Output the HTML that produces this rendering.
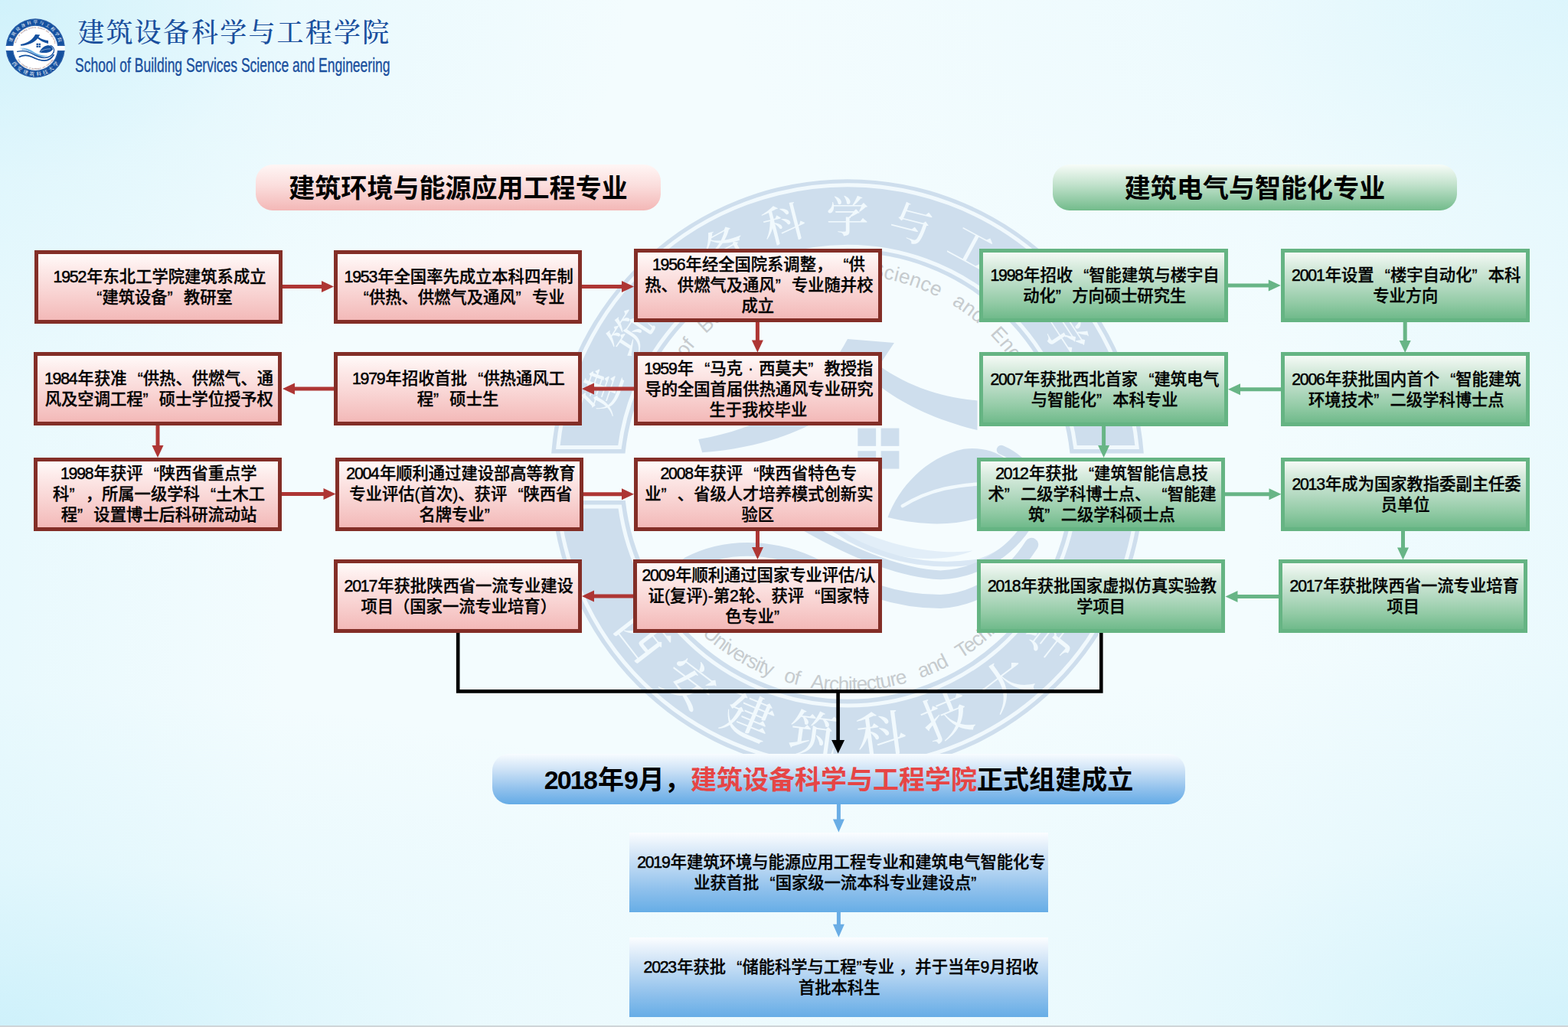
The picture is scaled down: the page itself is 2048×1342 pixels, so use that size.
<!DOCTYPE html>
<html lang="zh-CN">
<head>
<meta charset="utf-8">
<title>建筑设备科学与工程学院</title>
<style>
html,body{margin:0;padding:0;}
body{width:2048px;height:1342px;overflow:hidden;background:#e4f7fc;}
#pg{position:relative;width:2048px;height:1342px;overflow:hidden;
  font-family:"Liberation Sans","Noto Sans CJK SC",sans-serif;
  background:
    radial-gradient(ellipse 820px 520px at 0 0,rgba(190,236,249,.56),rgba(190,236,249,.19) 45%,rgba(190,236,249,0) 100%),
    radial-gradient(ellipse 1250px 440px at 0 100%,rgba(190,236,249,.62),rgba(190,236,249,.17) 50%,rgba(190,236,249,0) 100%),
    radial-gradient(ellipse 1250px 500px at 100% 100%,rgba(190,236,249,.55),rgba(190,236,249,.16) 50%,rgba(190,236,249,0) 100%),
    radial-gradient(ellipse 1100px 520px at 100% 0,rgba(196,238,250,.36),rgba(196,238,250,.1) 50%,rgba(196,238,250,0) 100%),
    linear-gradient(90deg,rgba(190,236,249,.2),rgba(190,236,249,0) 18%,rgba(190,236,249,0) 80%,rgba(190,236,249,.16) 100%),
    #f3fcfe;
}
#pg svg{position:absolute;left:0;top:0;overflow:visible;}
svg.wm{z-index:0;}
svg.ar{z-index:2;}
/* boxes */
.bx{position:absolute;box-sizing:border-box;display:flex;align-items:center;justify-content:center;z-index:3;}
.bx p{margin:0;text-align:center;white-space:nowrap;font-weight:500;font-size:21.3px;line-height:27px;color:#000;position:relative;top:1.2px;-webkit-text-stroke:.32px #000;}
.ln{display:block;margin:0 auto;white-space:nowrap;text-align:justify;text-align-last:justify;text-justify:inter-character;}
.ln.m{display:table;}
.bx b{display:inline-block;font-weight:500;letter-spacing:-1.25px;margin-right:1.25px;-webkit-text-stroke:.5px #000;}
.bx i,.pill i{font-style:normal;display:inline-block;width:1em;}
i.ql{text-align:right;text-align-last:right;}
i.qr{text-align:left;text-align-last:left;}
i.qc{text-align:center;text-align-last:center;}
.r{border:5.3px solid #832e27;background:linear-gradient(180deg,#fffaf9 0%,#fdeae9 22%,#f9d6d5 55%,#f3b9b8 100%);}
.g{border:5.3px solid #65b483;background:linear-gradient(180deg,#f5faf6 0%,#d9ecdf 20%,#b5dac2 50%,#93cba6 76%,#70ba8b 100%);}
.b{background:linear-gradient(180deg,#fbfdff 0%,#cfe3f6 30%,#8ec0ec 72%,#66ade6 100%);}
/* pills */
.pill{position:absolute;box-sizing:border-box;text-align:center;white-space:nowrap;font-weight:bold;color:#000;z-index:3;}
.pr{left:334px;top:215px;width:529px;height:59.5px;border-radius:22px;line-height:62px;font-size:34px;
  background:linear-gradient(180deg,#fff6f5 0%,#fbdedd 45%,#f3b7b6 100%);}
.pg{left:1375px;top:215px;width:528px;height:59.5px;border-radius:22px;line-height:62px;font-size:34px;
  background:linear-gradient(180deg,#f7fcf8 0%,#c4e3ce 42%,#72bb8b 100%);}
.pb{left:642.5px;top:984.5px;width:905.8px;height:66.5px;border-radius:22px;line-height:69px;font-size:34px;
  background:linear-gradient(180deg,#f8fcff 0%,#cde2f6 32%,#8dbfec 72%,#64abe6 100%);}
.pill b{display:inline-block;letter-spacing:-1.8px;margin-right:1.8px;}
.rd{color:#e64545;}
/* logo */
#logo{position:absolute;left:0;top:0;width:620px;height:120px;z-index:3;}
#logo .cn{position:absolute;left:100px;top:20px;font-family:"Liberation Serif","Noto Serif CJK SC",serif;font-weight:500;font-size:33px;line-height:44px;
  letter-spacing:4.3px;color:#1a4f9d;white-space:nowrap;}
#logo .en{position:absolute;left:98px;top:70px;font-size:25px;line-height:30px;color:#1a4f9d;white-space:nowrap;
  transform-origin:0 50%;transform:scaleX(.7);-webkit-text-stroke:.35px #1a4f9d;}
#foot{position:absolute;left:0;top:1339.5px;width:2048px;height:2.5px;background:#cfd5d8;z-index:4;}

</style>
</head>
<body>
<div id="pg">
<svg width="0" height="0" style="position:absolute"><defs><g id="seal">
<circle cx="655.0" cy="669.0" r="783.0" style="fill:var(--disk)"/>
<path d="M-125.7,609.5 A783.0,783.0 0 0 1 1435.7,609.5 L1241.3,609.5 A589.3,589.3 0 0 0 68.7,609.5 Z" style="fill:var(--ring)"/>
<path d="M-125.3,733.6 A783.0,783.0 0 0 0 1435.3,733.6 L1240.7,733.6 A589.3,589.3 0 0 1 69.3,733.6 Z" style="fill:var(--ring)"/>
<path d="M-108.2,593.4 A766.9,766.9 0 0 1 1418.2,593.4 L1255.6,593.4 A605.4,605.4 0 0 0 54.4,593.4 Z" style="fill:none;stroke:var(--ln);stroke-width:10.1"/>
<path d="M-107.6,749.7 A766.9,766.9 0 0 0 1417.6,749.7 L1255.0,749.7 A605.4,605.4 0 0 1 55.0,749.7 Z" style="fill:none;stroke:var(--ln);stroke-width:10.1"/>
<g style="fill:var(--rt);font-family:'Liberation Serif','Noto Serif CJK SC',serif;font-weight:500" text-anchor="middle">
<g font-size="112">
<text transform="translate(6.4,445.7) rotate(-71.0)" y="41.4">建</text>
<text transform="translate(81.0,293.4) rotate(-56.8)" y="41.4">筑</text>
<text transform="translate(190.7,164.0) rotate(-42.6)" y="41.4">设</text>
<text transform="translate(328.7,65.6) rotate(-28.4)" y="41.4">备</text>
<text transform="translate(486.7,4.0) rotate(-14.2)" y="41.4">科</text>
<text transform="translate(655.0,-17.0) rotate(0.0)" y="41.4">学</text>
<text transform="translate(823.3,4.0) rotate(14.2)" y="41.4">与</text>
<text transform="translate(981.3,65.6) rotate(28.4)" y="41.4">工</text>
<text transform="translate(1119.3,164.0) rotate(42.6)" y="41.4">程</text>
<text transform="translate(1229.0,293.4) rotate(56.8)" y="41.4">学</text>
<text transform="translate(1303.6,445.7) rotate(71.0)" y="41.4">院</text>
</g>
<g font-size="131">
<text transform="translate(113.0,1089.5) rotate(52.2)" y="48.6">西</text>
<text transform="translate(239.3,1214.7) rotate(37.3)" y="48.6">安</text>
<text transform="translate(393.6,1303.2) rotate(22.4)" y="48.6">建</text>
<text transform="translate(565.5,1349.1) rotate(7.5)" y="48.6">筑</text>
<text transform="translate(743.4,1349.3) rotate(-7.4)" y="48.6">科</text>
<text transform="translate(915.3,1303.7) rotate(-22.3)" y="48.6">技</text>
<text transform="translate(1069.8,1215.4) rotate(-37.2)" y="48.6">大</text>
<text transform="translate(1196.3,1090.4) rotate(-52.1)" y="48.6">学</text>
</g>
</g>
<path id="arcT" d="M141.7,541.0 A529.0,529.0 0 0 1 1168.3,541.0" fill="none"/>
<path id="arcB" d="M179.5,977.8 A567.0,567.0 0 0 0 1130.5,977.8" fill="none"/>
<g style="fill:var(--it);font-family:'Liberation Sans',sans-serif;font-size:53px;word-spacing:24px">
<text><textPath href="#arcT" textLength="1403" lengthAdjust="spacing">School of Building Services Science and Engineering</textPath></text>
<text><textPath href="#arcB" textLength="1128" lengthAdjust="spacing">Xi'an University of Architecture and Technology</textPath></text>
</g>
<g style="fill:var(--em)">
<path d="M655,308 L778,318 L738,378 C810,430 900,462 997,470 L997,548 C880,520 780,470 716,412 C620,520 480,590 272,607 L262,572 C450,540 580,450 655,308 Z"/>
<rect x="682" y="543" width="48" height="47"/><rect x="743" y="543" width="48" height="47"/>
<rect x="682" y="603" width="48" height="47"/><rect x="743" y="603" width="48" height="47"/>
<path d="M761,778 C790,700 860,620 961,598 C1040,588 1105,630 1120,700 C1080,750 1040,770 995,781 C930,800 850,800 761,778 Z"/>
</g>
<path d="M800,748 C870,705 940,690 1050,688" style="fill:none;stroke:var(--disk2);stroke-width:9;stroke-linecap:round"/>
<path d="M225,672 C400,648 520,700 640,790 C760,858 900,878 985,866 C900,902 760,894 640,824 C520,742 400,684 225,672 Z" style="fill:var(--w1)"/>
<path d="M300,705 C450,710 560,770 660,835 C780,900 900,910 1000,895 C1080,870 1130,810 1150,740" style="fill:none;stroke:var(--w2);stroke-width:14;stroke-linecap:round"/>
<path d="M175,760 C300,730 430,740 540,800 C680,880 800,925 900,930 C1010,925 1100,860 1145,770 C1170,700 1130,630 1060,600" style="fill:none;stroke:var(--em);stroke-width:24;stroke-linecap:round"/>
<path d="M235,900 C330,850 450,850 560,900 C680,960 780,1000 900,1000 C1000,995 1090,930 1140,850" style="fill:none;stroke:var(--em);stroke-width:36;stroke-linecap:round"/>
</g></defs></svg>
<svg class="wm" width="2048" height="1342" viewBox="0 0 2048 1342"><use href="#seal" transform="translate(1107,622) scale(0.49553) translate(-655.0,-669.0)" style="--ring:#cedeed;--disk:rgba(255,255,255,.18);--disk2:#f1f9fd;--rt:#f1f9fd;--it:#c6cbce;--em:#cedeed;--w1:#e2eef8;--w2:#d9e7f4;--ln:#f1f9fd"/></svg>
<div id="logo">
<svg width="120" height="120" viewBox="0 0 120 120"><use href="#seal" transform="translate(46.2,62.9) scale(0.04930) translate(-655.0,-669.0)" style="--ring:#14509f;--disk:#fff;--disk2:#fff;--rt:#fff;--it:#7a4a4a;--em:#14509f;--w1:#6db6e8;--w2:#2a77c4;--ln:rgba(255,255,255,.25)"/></svg>
<svg class="ttl" width="620" height="120" viewBox="0 0 620 120" role="img" aria-label="建筑设备科学与工程学院"><title>建筑设备科学与工程学院</title><text x="101.2" y="54.8" font-size="35" letter-spacing="2.2" font-weight="500" fill="#1a4f9d" style="font-family:'Liberation Serif','Noto Serif CJK SC',serif">建筑设备科学与工程学院</text></svg>
<div class="en">School of Building Services Science and Engineering</div>
</div>
<div class="pill pr"><span class="ln" style="width:442.4px">建筑环境与能源应用工程专业</span></div>
<div class="pill pg"><span class="ln" style="width:340.4px">建筑电气与智能化专业</span></div>
<svg class="ar" width="2048" height="1342" viewBox="0 0 2048 1342"><path d="M369.0,377.0 L420.0,377.0 L420.0,382.0 L436.0,374.5 L420.0,367.0 L420.0,372.0 L369.0,372.0Z" fill="#ae3634"/><path d="M759.0,377.0 L812.0,377.0 L812.0,382.0 L828.0,374.5 L812.0,367.0 L812.0,372.0 L759.0,372.0Z" fill="#ae3634"/><path d="M986.9,420.0 L986.9,444.5 L981.9,444.5 L989.4,460.5 L996.9,444.5 L991.9,444.5 L991.9,420.0Z" fill="#ae3634"/><path d="M828.0,505.5 L776.0,505.5 L776.0,500.5 L760.0,508.0 L776.0,515.5 L776.0,510.5 L828.0,510.5Z" fill="#ae3634"/><path d="M436.0,505.5 L385.0,505.5 L385.0,500.5 L369.0,508.0 L385.0,515.5 L385.0,510.5 L436.0,510.5Z" fill="#ae3634"/><path d="M203.5,556.0 L203.5,582.0 L198.5,582.0 L206.0,598.0 L213.5,582.0 L208.5,582.0 L208.5,556.0Z" fill="#ae3634"/><path d="M368.0,648.0 L422.5,648.0 L422.5,653.0 L438.5,645.5 L422.5,638.0 L422.5,643.0 L368.0,643.0Z" fill="#ae3634"/><path d="M762.0,648.2 L812.0,648.2 L812.0,653.2 L828.0,645.7 L812.0,638.2 L812.0,643.2 L762.0,643.2Z" fill="#ae3634"/><path d="M987.0,693.0 L987.0,715.0 L982.0,715.0 L989.5,731.0 L997.0,715.0 L992.0,715.0 L992.0,693.0Z" fill="#ae3634"/><path d="M828.0,776.5 L776.0,776.5 L776.0,771.5 L760.0,779.0 L776.0,786.5 L776.0,781.5 L828.0,781.5Z" fill="#ae3634"/><path d="M1603.0,375.5 L1656.8,375.5 L1656.8,380.5 L1672.8,373.0 L1656.8,365.5 L1656.8,370.5 L1603.0,370.5Z" fill="#68b586"/><path d="M1832.7,421.0 L1832.7,445.0 L1827.7,445.0 L1835.2,461.0 L1842.7,445.0 L1837.7,445.0 L1837.7,421.0Z" fill="#68b586"/><path d="M1673.5,506.3 L1620.0,506.3 L1620.0,501.3 L1604.0,508.8 L1620.0,516.3 L1620.0,511.3 L1673.5,511.3Z" fill="#68b586"/><path d="M1439.1,556.0 L1439.1,582.0 L1434.1,582.0 L1441.6,598.0 L1449.1,582.0 L1444.1,582.0 L1444.1,556.0Z" fill="#68b586"/><path d="M1600.0,648.3 L1657.5,648.3 L1657.5,653.3 L1673.5,645.8 L1657.5,638.3 L1657.5,643.3 L1600.0,643.3Z" fill="#68b586"/><path d="M1830.0,693.5 L1830.0,715.5 L1825.0,715.5 L1832.5,731.5 L1840.0,715.5 L1835.0,715.5 L1835.0,693.5Z" fill="#68b586"/><path d="M1671.0,777.1 L1616.5,777.1 L1616.5,772.1 L1600.5,779.6 L1616.5,787.1 L1616.5,782.1 L1671.0,782.1Z" fill="#68b586"/><path d="M1092.9,1050.0 L1092.9,1070.5 L1087.9,1070.5 L1095.4,1087.5 L1102.9,1070.5 L1097.9,1070.5 L1097.9,1050.0Z" fill="#6aade5"/><path d="M1092.9,1191.0 L1092.9,1207.8 L1087.9,1207.8 L1095.4,1224.8 L1102.9,1207.8 L1097.9,1207.8 L1097.9,1191.0Z" fill="#6aade5"/><path d="M598.2,826 V903.4 H1438.3 V826.5" fill="none" stroke="#000" stroke-width="4.6" stroke-linejoin="miter"/><path d="M1092.3,903.4 L1092.3,967.0 L1086.1,967.0 L1094.6,984.5 L1103.1,967.0 L1096.9,967.0 L1096.9,903.4Z" fill="#000"/></svg>
<div class="bx r" style="left:45px;top:326.5px;width:324.2px;height:96px"><p><span class="ln" style="width:275.0px"><b>1952</b>年东北工学院建筑系成立</span><span class="ln" style="width:190.0px"><i class="ql">“</i>建筑设备<i class="qr">”</i>教研室</span></p></div>
<div class="bx r" style="left:435.5px;top:326.5px;width:324.2px;height:96px"><p><span class="ln" style="width:296.0px"><b>1953</b>年全国率先成立本科四年制</span><span class="ln" style="width:274.0px"><i class="ql">“</i>供热、供燃气及通风<i class="qr">”</i>专业</span></p></div>
<div class="bx r" style="left:827.5px;top:324.7px;width:324.2px;height:96px"><p><span class="ln" style="width:275.3px"><b>1956</b>年经全国院系调整，<i class="ql">“</i>供</span><span class="ln" style="width:294.7px">热、供燃气及通风<i class="qr">”</i>专业随并校</span><span class="ln" style="width:42.4px">成立</span></p></div>
<div class="bx r" style="left:44px;top:460.3px;width:324.2px;height:96px"><p><span class="ln" style="width:296.3px"><b>1984</b>年获准<i class="ql">“</i>供热、供燃气、通</span><span class="ln" style="width:294.7px">风及空调工程<i class="qr">”</i>硕士学位授予权</span></p></div>
<div class="bx r" style="left:435.5px;top:460.3px;width:324.2px;height:96px"><p><span class="ln" style="width:275.3px"><b>1979</b>年招收首批<i class="ql">“</i>供热通风工</span><span class="ln" style="width:105.7px">程<i class="qr">”</i>硕士生</span></p></div>
<div class="bx r" style="left:827.5px;top:460.3px;width:324.2px;height:96px"><p><span class="ln" style="width:296.9px"><b>1959</b>年<i class="ql">“</i>马克<i class="qc">·</i>西莫夫<i class="qr">”</i>教授指</span><span class="ln" style="width:294.4px">导的全国首届供热通风专业研究</span><span class="ln" style="width:126.4px">生于我校毕业</span></p></div>
<div class="bx r" style="left:44px;top:597.7px;width:324.2px;height:96px"><p><span class="ln" style="width:254.3px"><b>1998</b>年获评<i class="ql">“</i>陕西省重点学</span><span class="ln" style="width:274.0px">科<i class="qr">”</i>，所属一级学科<i class="ql">“</i>土木工</span><span class="ln" style="width:252.7px">程<i class="qr">”</i>设置博士后科研流动站</span></p></div>
<div class="bx r" style="left:438.2px;top:597.6px;width:324.2px;height:96px"><p><span class="ln" style="width:296.0px"><b>2004</b>年顺利通过建设部高等教育</span><span class="ln" style="width:287.9px">专业评估(首次)、获评<i class="ql">“</i>陕西省</span><span class="ln" style="width:105.7px">名牌专业<i class="qr">”</i></span></p></div>
<div class="bx r" style="left:827.5px;top:597.5px;width:324.2px;height:96px"><p><span class="ln" style="width:254.3px"><b>2008</b>年获评<i class="ql">“</i>陕西省特色专</span><span class="ln" style="width:294.7px">业<i class="qr">”</i>、省级人才培养模式创新实</span><span class="ln" style="width:42.4px">验区</span></p></div>
<div class="bx r" style="left:435.5px;top:730.7px;width:324.2px;height:96px"><p><span class="ln" style="width:296.0px"><b>2017</b>年获批陕西省一流专业建设</span><span class="ln" style="width:252.4px">项目（国家一流专业培育）</span></p></div>
<div class="bx r" style="left:827.4px;top:730.7px;width:324.2px;height:96px"><p><span class="ln" style="width:302.0px"><b>2009</b>年顺利通过国家专业评估/认</span><span class="ln" style="width:285.8px">证(复评)-第<b>2</b>轮、获评<i class="ql">“</i>国家特</span><span class="ln" style="width:84.7px">色专业<i class="qr">”</i></span></p></div>
<div class="bx g" style="left:1279.2px;top:325px;width:324.8px;height:96.2px"><p><span class="ln" style="width:296.3px"><b>1998</b>年招收<i class="ql">“</i>智能建筑与楼宇自</span><span class="ln" style="width:210.7px">动化<i class="qr">”</i>方向硕士研究生</span></p></div>
<div class="bx g" style="left:1673px;top:325px;width:324.8px;height:96.2px"><p><span class="ln" style="width:296.6px"><b>2001</b>年设置<i class="ql">“</i>楼宇自动化<i class="qr">”</i>本科</span><span class="ln" style="width:84.4px">专业方向</span></p></div>
<div class="bx g" style="left:1279.2px;top:460.4px;width:324.8px;height:96.2px"><p><span class="ln" style="width:296.3px"><b>2007</b>年获批西北首家<i class="ql">“</i>建筑电气</span><span class="ln" style="width:189.7px">与智能化<i class="qr">”</i>本科专业</span></p></div>
<div class="bx g" style="left:1673px;top:460.4px;width:324.8px;height:96.2px"><p><span class="ln" style="width:296.3px"><b>2006</b>年获批国内首个<i class="ql">“</i>智能建筑</span><span class="ln" style="width:252.7px">环境技术<i class="qr">”</i>二级学科博士点</span></p></div>
<div class="bx g" style="left:1275.5px;top:597.7px;width:324.8px;height:96.2px"><p><span class="ln" style="width:275.3px"><b>2012</b>年获批<i class="ql">“</i>建筑智能信息技</span><span class="ln" style="width:295.0px">术<i class="qr">”</i>二级学科博士点、<i class="ql">“</i>智能建</span><span class="ln" style="width:189.7px">筑<i class="qr">”</i>二级学科硕士点</span></p></div>
<div class="bx g" style="left:1673px;top:597.7px;width:324.8px;height:96.2px"><p><span class="ln" style="width:296.0px"><b>2013</b>年成为国家教指委副主任委</span><span class="ln" style="width:63.4px">员单位</span></p></div>
<div class="bx g" style="left:1275.5px;top:731.2px;width:324.8px;height:96.2px"><p><span class="ln" style="width:296.0px"><b>2018</b>年获批国家虚拟仿真实验教</span><span class="ln" style="width:63.4px">学项目</span></p></div>
<div class="bx g" style="left:1670.2px;top:731.2px;width:324.8px;height:96.2px"><p><span class="ln" style="width:296.0px"><b>2017</b>年获批陕西省一流专业培育</span><span class="ln" style="width:42.4px">项目</span></p></div>
<div class="bx b" style="left:822px;top:1088px;width:547.3px;height:103.5px"><p><span class="ln" style="width:527.0px"><b>2019</b>年建筑环境与能源应用工程专业和建筑电气智能化专</span><span class="ln" style="width:379.0px">业获首批<i class="ql">“</i>国家级一流本科专业建设点<i class="qr">”</i></span></p></div>
<div class="bx b" style="left:822px;top:1225.3px;width:547.3px;height:103.5px"><p><span class="ln" style="width:510.2px"><b>2023</b>年获批<i class="ql">“</i>储能科学与工程”专业 ，并于当年<b>9</b>月招收</span><span class="ln" style="width:105.4px">首批本科生</span></p></div>
<div class="pill pb"><span class="ln" style="width:769.5px"><b>2018</b>年<b>9</b>月，<span class="rd">建筑设备科学与工程学院</span>正式组建成立</span></div>
<div id="foot"></div>
</div>
</body>
</html>
